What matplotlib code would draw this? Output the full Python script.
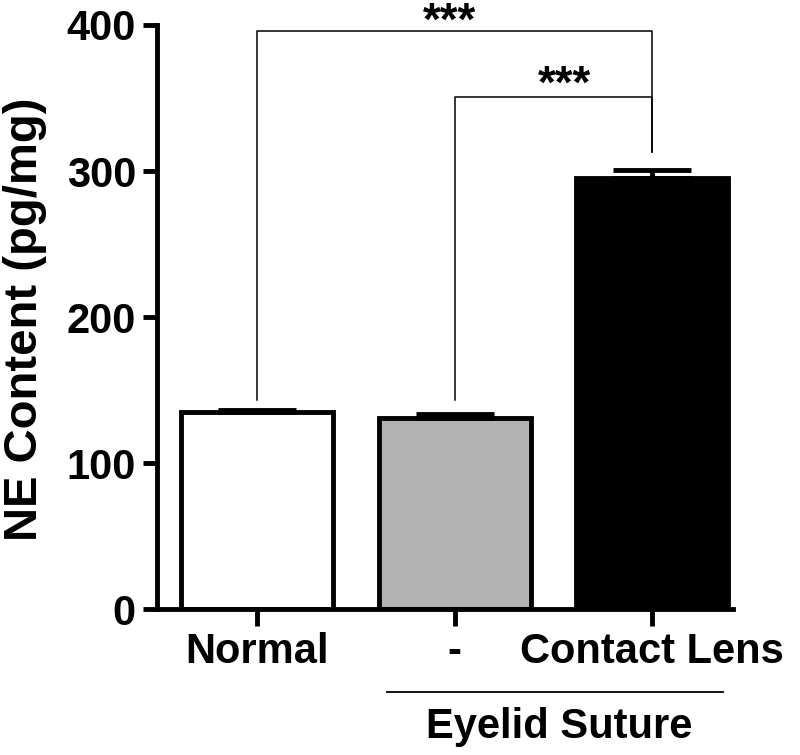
import matplotlib.pyplot as plt
import numpy as np

plt.rcParams['font.family'] = ['Liberation Sans', 'DejaVu Sans']
plt.rcParams['font.weight'] = 'bold'

groups = ['Normal', '-', 'Contact Lens']
means = [135, 131, 295]
errs = [1.5, 2.5, 6]
colors = ['white', '#b3b3b3', 'black']
yticks = [0, 100, 200, 300, 400]

# significance brackets: (left bar, right bar, height, left leg end, right leg end, star x, star y)
brackets = [(0, 2, 396, 143, 313, 0.975, 393), (1, 2, 351, 143, 313, 1.557, 350)]

fig = plt.figure(figsize=(8, 7.55), dpi=100)
ax = fig.add_axes([0.196, 0.193, 0.72, 0.774])

x = np.arange(len(groups))
ax.bar(x, means, width=0.77, color=colors, edgecolor='black', linewidth=3.5, zorder=2)
for xi, m, e in zip(x, means, errs):
    ax.errorbar(xi, m, yerr=[[0], [e]], fmt='none', ecolor='black',
                elinewidth=3.5, capsize=28, capthick=3.5, zorder=3)

for l, r, h, yl, yr, sx, sy in brackets:
    ax.plot([l, l, r, r], [yl, h, h, yr], color='black', lw=1.1, zorder=1)
    ax.text(sx, sy, '***', ha='center', va='baseline', fontsize=33,
            fontweight='bold', clip_on=False)

ax.set_xlim(-0.51, 2.41)
ax.set_ylim(0, 400)
ax.set_yticks(yticks)
ax.set_xticks(x)
ax.set_xticklabels(groups, fontsize=30)
ax.tick_params(axis='y', labelsize=30, width=3.5, length=10, pad=5)
ax.tick_params(axis='x', width=3.5, length=12, pad=4)
for lab in ax.get_yticklabels() + ax.get_xticklabels():
    lab.set_fontweight('bold')
ax.spines['top'].set_visible(False)
ax.spines['right'].set_visible(False)
ax.spines['left'].set_linewidth(3.5)
ax.spines['bottom'].set_linewidth(3.5)

fig.text(0.031, 0.577, 'NE Content (pg/mg)', rotation=90, ha='center', va='center',
         fontsize=34, fontweight='bold')

# group label under the x axis
ax.plot([0.657, 2.36], [-0.142, -0.142], transform=ax.get_xaxis_transform(),
        color='black', lw=1.3, clip_on=False)
ax.text(1.53, -0.168, 'Eyelid Suture', transform=ax.get_xaxis_transform(),
        ha='center', va='top', fontsize=30, fontweight='bold')

fig.savefig('out.png', dpi=100)
